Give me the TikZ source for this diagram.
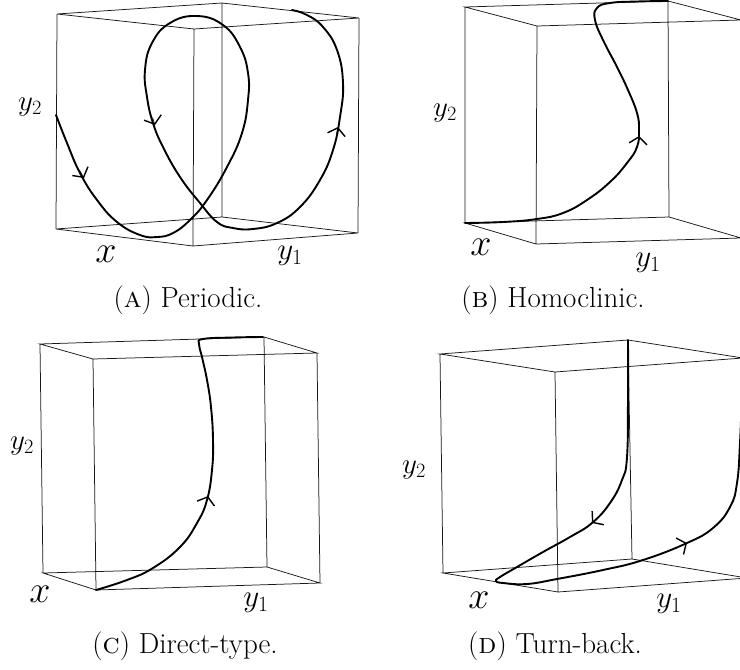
\RequirePackage{fix-cm}
\documentclass[tikz,border=0pt]{standalone}
\usetikzlibrary{arrows.meta}
\newcommand{\fsz}[1]{\fontsize{#1}{#1}\selectfont}
\newcommand{\drawcube}[1]{\draw[edge] (#1TL)--(#1TB)--(#1TR)--(#1TF)--cycle (#1BL)--(#1BB)--(#1BR)--(#1BF)--cycle (#1TL)--(#1BL) (#1TB)--(#1BB) (#1TR)--(#1BR) (#1TF)--(#1BF);}
\tikzset{
  edge/.style={line width=0.75pt, black!90},
  traj/.style={line width=1.9pt, line join=round, line cap=round},
  tipmark/.style={line width=0.5pt, -{Straight Barb[length=7pt,width=18pt,line width=1.4pt]}},
  labytwo/.style={inner sep=0pt, font=\fsz{29}},
  labx/.style={inner sep=0pt, font=\fsz{38}},
  labyone/.style={inner sep=0pt, font=\fsz{31}},
  captxt/.style={inner sep=0pt, font=\fsz{29}},
  smoothplot/.style={smooth, tension=0.75}
}
\begin{document}
\begin{tikzpicture}[x=1pt,y=-1pt]
\useasboundingbox (0,0) rectangle (740,670);
\begin{scope}
\clip (0,0) rectangle (740,670);
% ---------- Panel A ----------
\coordinate (aTL) at (57,14);  \coordinate (aTB) at (222,3);
\coordinate (aTR) at (359,18); \coordinate (aTF) at (194,29);
\coordinate (aBL) at (56,229); \coordinate (aBB) at (222,217);
\coordinate (aBR) at (358,233);\coordinate (aBF) at (193,246);
\drawcube{a}
\draw[traj] plot[smoothplot] coordinates {(56,115) (67,143) (80,173) (97,200) (117,222) (140,235) (157,237) (173,233) (190,220) (207,200) (227,167) (242,133) (248,100) (248,73) (240,47) (223,25) (197,16) (170,23) (152,43) (145,70) (147,97) (153,123) (163,147) (180,177) (200,203) (217,222) (233,228) (253,229) (277,223) (300,207) (320,180) (333,150) (340,117) (343,83) (337,50) (323,27) (307,15) (292,10)};
\draw[tipmark] (79.5,170) -- (84,178);
\draw[tipmark] (152.6,117.4) -- (155,125);
\draw[tipmark] (336.3,134.8) -- (338,127);
\node[labytwo] (ay2) at (30,107) {$y_2$};
\node[labx] (ax) at (106,254) {$x$};
\node[labyone] (ay1) at (290,256) {$y_1$};
% ---------- Panel B ----------
\coordinate (bTL) at (465,7);  \coordinate (bTB) at (668,1);
\coordinate (bTR) at (741,20); \coordinate (bTF) at (537,26);
\coordinate (bBL) at (465,223);\coordinate (bBB) at (669,217);
\coordinate (bBR) at (741,238);\coordinate (bBF) at (536,244);
\drawcube{b}
\draw[traj] plot[smoothplot] coordinates {(465,223) (503,222) (537,219) (563,213) (587,200) (610,182) (627,163) (637,147) (639,130) (637,113) (628,90) (617,67) (603,40) (595,20) (597,8) (610,3) (637,1.5) (668,1)};
\draw[tipmark] (638.1,143.9) -- (639,136);
\node[labytwo] (by2) at (445,113) {$y_2$};
\node[labx] (bx) at (481,247) {$x$};
\node[labyone] (by1) at (648,263) {$y_1$};
% ---------- Panel C ----------
\coordinate (cTL) at (40,344);  \coordinate (cTB) at (264,337);
\coordinate (cTR) at (317,353); \coordinate (cTF) at (93,359);
\coordinate (cBL) at (43,573);  \coordinate (cBB) at (267,567);
\coordinate (cBR) at (320,583); \coordinate (cBF) at (96,590);
\drawcube{c}
\draw[traj] plot[smoothplot] coordinates {(96,590) (127,580) (153,568) (180,547) (197,523) (207,500) (212,470) (213,440) (211,407) (207,380) (202,357) (199,344) (203,339) (233,337.5) (263,337)};
\draw[tipmark] (205.8,503.7) -- (208,496);
\node[labytwo] (cy2) at (22,446) {$y_2$};
\node[labx] (cx) at (40,594) {$x$};
\node[labyone] (cy1) at (256,603) {$y_1$};
% ---------- Panel D ----------
\coordinate (dTL) at (440,354); \coordinate (dTB) at (628,340);
\coordinate (dTR) at (743,358); \coordinate (dTF) at (555,372);
\coordinate (dBL) at (443,573); \coordinate (dBB) at (632,559);
\coordinate (dBR) at (747,578); \coordinate (dBF) at (558,592);
\drawcube{d}
\draw[traj] plot[smoothplot] coordinates {(628,340) (628,397) (627,457) (622,480) (610,503) (592,523) (570,537) (543,552) (517,567) (500,577) (496,581) (503,583) (527,584) (557,579) (603,570) (643,560) (687,543) (713,528) (730,507) (737,483) (740,443) (742,390)};
\draw[tipmark] (598.1,517.8) -- (592,523);
\draw[tipmark] (679.7,546.3) -- (687,543);
\node[labytwo] (dy2) at (414,470) {$y_2$};
\node[labx] (dx) at (479,600) {$x$};
\node[labyone] (dy1) at (669,604) {$y_1$};
\end{scope}
% ---------- Captions ----------
\node[captxt] (capa) at (188,300) {(\textsc{a}) Periodic.};
\node[captxt] (capb) at (553,300) {(\textsc{b}) Homoclinic.};
\node[captxt] (capc) at (185,646) {(\textsc{c}) Direct-type.};
\node[captxt] (capd) at (555,646) {(\textsc{d}) Turn-back.};
\end{tikzpicture}
\end{document}
